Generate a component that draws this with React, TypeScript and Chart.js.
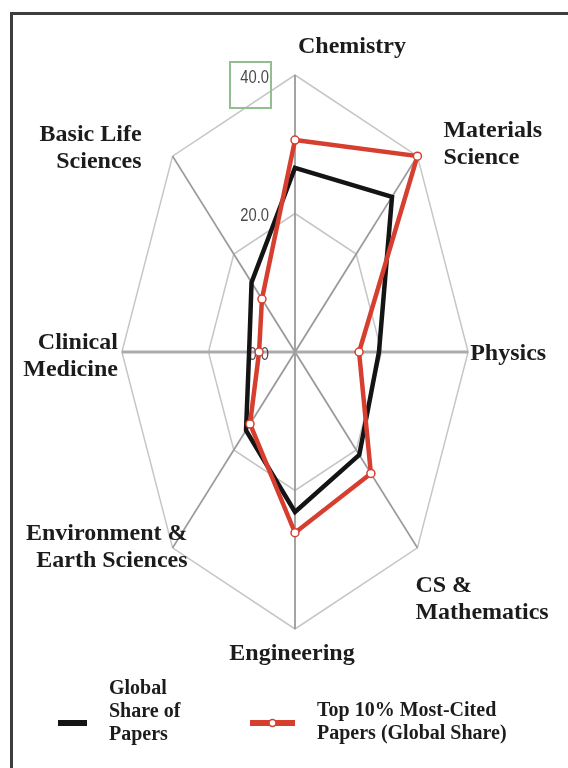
import React, { useEffect, useRef } from "react";
import {
  Chart,
  RadarController,
  RadialLinearScale,
  PointElement,
  LineElement,
} from "chart.js";

// ---------- data ----------
const categories = [
  "Chemistry",
  "Materials Science",
  "Physics",
  "CS & Mathematics",
  "Engineering",
  "Environment & Earth Sciences",
  "Clinical Medicine",
  "Basic Life Sciences",
];
const categoryLines = [
  ["Chemistry"],
  ["Materials", "Science"],
  ["Physics"],
  ["CS &", "Mathematics"],
  ["Engineering"],
  ["Environment &", "Earth Sciences"],
  ["Clinical", "Medicine"],
  ["Basic Life", "Sciences"],
];
const globalShare = [26.6, 31.7, 19.4, 21.0, 23.1, 16.0, 10.6, 14.2];
const top10Share = [30.6, 40.0, 14.8, 24.8, 26.1, 14.7, 8.3, 10.8];
const tickValues = [0, 20, 40];
const seriesNames = [
  "Global Share of Papers",
  "Top 10% Most-Cited Papers (Global Share)",
];
const legendLines = [
  ["Global", "Share of", "Papers"],
  ["Top 10% Most-Cited", "Papers (Global Share)"],
];

// ---------- styling ----------
const X_STRETCH = 0.625;
const BLACK = "#141414";
const RED = "#d63f2f";
const LABEL_FONT = "bold 24px 'Liberation Serif', 'Times New Roman', serif";
const LEGEND_FONT = "bold 20px 'Liberation Serif', 'Times New Roman', serif";
const TICK_FONT = "18px 'Liberation Sans Narrow', 'Liberation Sans', sans-serif";

const labelLayout = [
  { align: "left", dx: 3, dy: -28 },
  { align: "left", dx: 26, dy: -12 },
  { align: "left", dx: 2, dy: 2 },
  { align: "left", dx: -2, dy: 51 },
  { align: "center", dx: -3, dy: 25 },
  { align: "right", dx: 15, dy: -1 },
  { align: "right", dx: -4, dy: 4 },
  { align: "right", dx: -31, dy: -8 },
];

class StretchedRadialScale extends RadialLinearScale {
  static id = "stretchedRadial";
  getPointPosition(index: number, distance: number, additionalAngle = 0) {
    const p = super.getPointPosition(index, distance, additionalAngle);
    return {
      x: this.xCenter + (p.x - this.xCenter) * X_STRETCH,
      y: p.y,
      angle: p.angle,
    };
  }
}

Chart.register(
  RadarController,
  RadialLinearScale,
  PointElement,
  LineElement,
  StretchedRadialScale
);

const ticksPlugin = {
  id: "tickText",
  beforeDatasetsDraw(chart: any) {
    const scale = chart.scales.r;
    const ctx = chart.ctx;
    ctx.save();
    ctx.font = TICK_FONT;
    ctx.fillStyle = "#4a4a4a";
    ctx.textAlign = "right";
    ctx.textBaseline = "middle";
    const x = scale.xCenter - 26;
    tickValues.forEach((v, i) => {
      const y = scale.yCenter - scale.getDistanceFromCenterForValue(v) + 3;
      ctx.save();
      ctx.translate(x, y);
      ctx.scale(0.82, 1);
      ctx.fillText(v.toFixed(1), 0, 0);
      ctx.restore();
      if (i === tickValues.length - 1) {
        ctx.strokeStyle = "#93bf90";
        ctx.lineWidth = 2;
        ctx.strokeRect(x - 39, y - 16, 41, 46);
      }
    });
    ctx.restore();
  },
};

const labelsPlugin = {
  id: "pointText",
  afterDraw(chart: any) {
    const scale = chart.scales.r;
    const ctx = chart.ctx;
    ctx.save();
    ctx.font = LABEL_FONT;
    ctx.fillStyle = "#1c1c1c";
    ctx.textBaseline = "middle";
    const lh = 27;
    categoryLines.forEach((lines, i) => {
      const p = scale.getPointPosition(i, scale.drawingArea);
      const lay = labelLayout[i];
      ctx.textAlign = lay.align;
      const cy = p.y + lay.dy;
      lines.forEach((t, k) => {
        ctx.fillText(t, p.x + lay.dx, cy - ((lines.length - 1) * lh) / 2 + k * lh);
      });
    });

    // legend
    const ds = chart.data.datasets;
    const sampleY = 715;
    const samples = [
      { x0: 50, x1: 79, tx: 101, baselines: [686, 709, 732] },
      { x0: 242, x1: 287, tx: 309, baselines: [708, 731] },
    ];
    samples.forEach((s, i) => {
      ctx.strokeStyle = ds[i].borderColor;
      ctx.lineWidth = 6;
      ctx.beginPath();
      ctx.moveTo(s.x0, sampleY);
      ctx.lineTo(s.x1, sampleY);
      ctx.stroke();
      if (ds[i].pointRadius > 0) {
        ctx.beginPath();
        ctx.arc((s.x0 + s.x1) / 2, sampleY, 3.5, 0, Math.PI * 2);
        ctx.fillStyle = "#ffffff";
        ctx.fill();
        ctx.lineWidth = 1.5;
        ctx.stroke();
      }
      ctx.font = LEGEND_FONT;
      ctx.fillStyle = "#1c1c1c";
      ctx.textAlign = "left";
      ctx.textBaseline = "alphabetic";
      legendLines[i].forEach((t, k) => ctx.fillText(t, s.tx, s.baselines[k]));
    });
    ctx.restore();
  },
};

export default function App() {
  const ref = useRef<HTMLCanvasElement>(null);
  useEffect(() => {
    const canvas = ref.current!;
    const chart = new Chart(canvas, {
      type: "radar",
      data: {
        labels: categories,
        datasets: [
          {
            label: seriesNames[0],
            data: globalShare,
            borderColor: BLACK,
            borderWidth: 4.5,
            pointRadius: 0,
            fill: false,
            order: 1,
          },
          {
            label: seriesNames[1],
            data: top10Share,
            borderColor: RED,
            borderWidth: 4.5,
            pointRadius: 4,
            pointBackgroundColor: "#ffffff",
            pointBorderColor: RED,
            pointBorderWidth: 1.5,
            fill: false,
            order: 0,
          },
        ],
      },
      options: {
        responsive: false,
        animation: false,
        devicePixelRatio: 1,
        layout: { padding: { top: 67, bottom: 139, left: 10, right: 36 } },
        plugins: { legend: { display: false }, tooltip: { enabled: false } },
        scales: {
          r: {
            type: "stretchedRadial",
            min: 0,
            max: 40,
            ticks: { stepSize: 20, display: false },
            pointLabels: { display: false },
            grid: { color: "#c6c6c6", lineWidth: 1.5 },
            angleLines: {
              color: (c: any) => (c.index % 4 === 2 ? "#ababab" : "#9a9a9a"),
              lineWidth: (c: any) => (c.index % 4 === 2 ? 3 : 1.8),
            },
          },
        },
      } as any,
      plugins: [ticksPlugin, labelsPlugin],
    });
    return () => chart.destroy();
  }, []);

  return (
    <div
      style={{
        position: "absolute",
        left: 8,
        top: 8,
        width: 560,
        height: 760,
        overflow: "hidden",
        background: "#ffffff",
      }}
    >
      <div
        style={{
          position: "absolute",
          left: 2,
          top: 4,
          width: 640,
          height: 800,
          borderTop: "3px solid #3d3d3d",
          borderLeft: "3px solid #3d3d3d",
        }}
      />
      <canvas
        ref={ref}
        width={600}
        height={760}
        style={{ position: "absolute", left: 0, top: 0, width: 600, height: 760 }}
      />
    </div>
  );
}
